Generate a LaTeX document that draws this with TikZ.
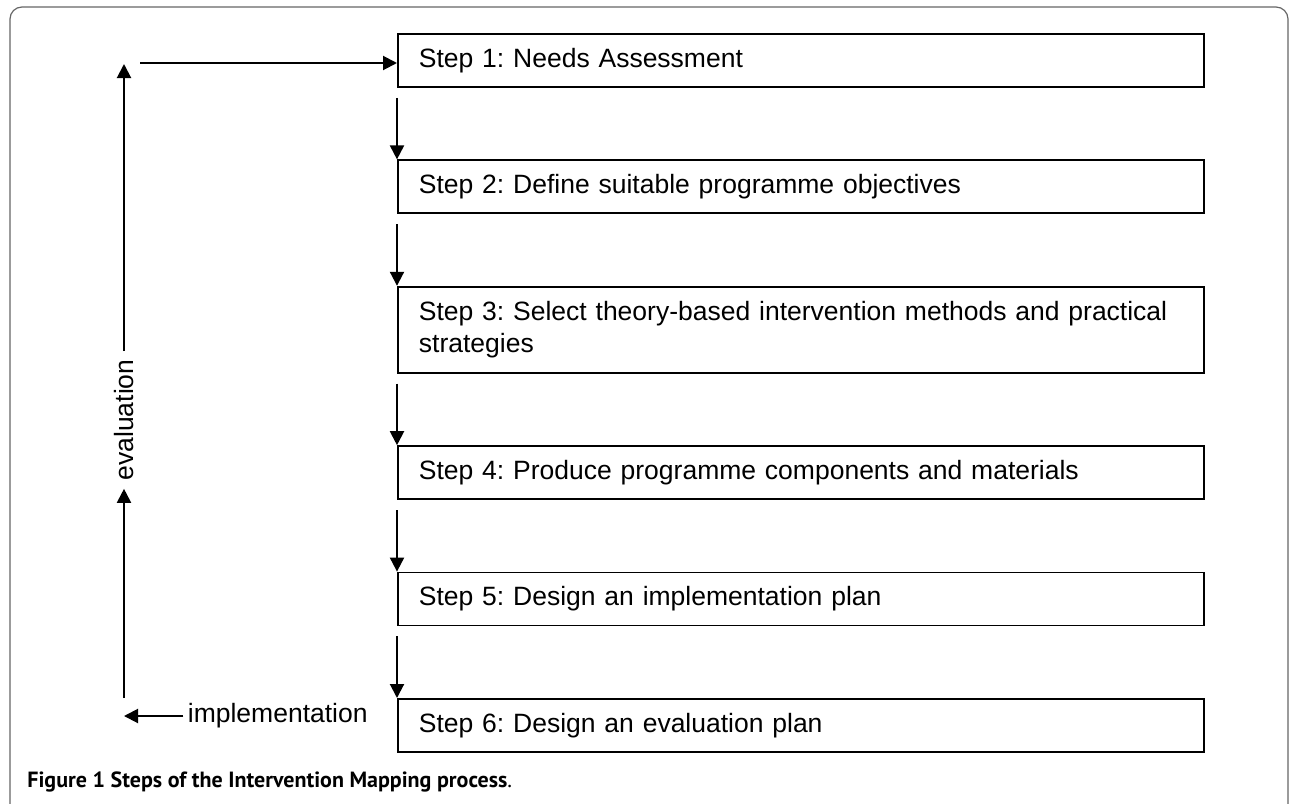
\documentclass[tikz,border=0pt]{standalone}
\usepackage{fontspec}
\setmainfont{Liberation Sans}
\newfontfamily\capfont{PT Sans}
\usetikzlibrary{positioning,arrows.meta}
\frenchspacing

\tikzset{
  stepbox/.style={draw, line width=0.9pt, inner xsep=10.5pt, text width=382pt,
    minimum height=26.5pt, align=left, font=\fontsize{13.25}{16}\selectfont},
  flow/.style={line width=1pt, -{Triangle[length=7pt,width=7pt]}},
  sidelabel/.style={inner sep=2pt, font=\fontsize{13.25}{16}\selectfont},
}

\begin{document}
\begin{tikzpicture}[x=0.5pt, y=-0.5pt, node distance=35.8pt]
    \useasboundingbox (0,0) rectangle (1290,803);
    %% frame
    \begin{scope}
        \clip (0,0) rectangle (1290,803);
        \draw[black!60, line width=0.6pt, rounded corners=6pt] (10,7) rectangle (1288,840);
    \end{scope}

    %% the six steps
    \node[stepbox, anchor=north west] (s1) at (397,33) {Step 1: Needs Assessment};
    \node[stepbox, below=of s1] (s2) {Step 2: Define suitable programme objectives};
    \node[stepbox, below=of s2, minimum height=43pt] (s3)
        {Step 3: Select theory-based intervention methods and practical\\strategies};
    \node[stepbox, below=of s3] (s4) {Step 4: Produce programme components and materials};
    \node[stepbox, below=of s4] (s5) {Step 5: Design an implementation plan};
    \node[stepbox, below=of s5] (s6) {Step 6: Design an evaluation plan};

    \foreach \a/\b in {s1/s2,s2/s3,s3/s4,s4/s5,s5/s6}
        \draw[flow] ([yshift=-5pt]\a.south west) -- (\b.north west);

    %% feedback loop
    \node[sidelabel, anchor=east] (impl) at (372,716) {implementation};
    \coordinate (implend) at (124,716);
    \draw[flow] (impl.west) -- (implend);

    \node[sidelabel, rotate=90, inner xsep=4pt] (eval) at (124,420) {evaluation};
    \coordinate (evbot) at (124,698);
    \coordinate (evtop) at (124,64);
    \draw[flow] (evbot) -- (eval.west);
    \draw[flow] (eval.east) -- (evtop);

    \coordinate (fbstart) at (140,63);
    \draw[flow] (fbstart) -- (fbstart -| s1.west);

    %% caption
    \node[anchor=base west, inner sep=0pt, font=\capfont\fontsize{11}{13}\selectfont] (cap) at (27,787)
        {\textbf{Figure 1 Steps of the Intervention Mapping process}.};
\end{tikzpicture}
\end{document}
